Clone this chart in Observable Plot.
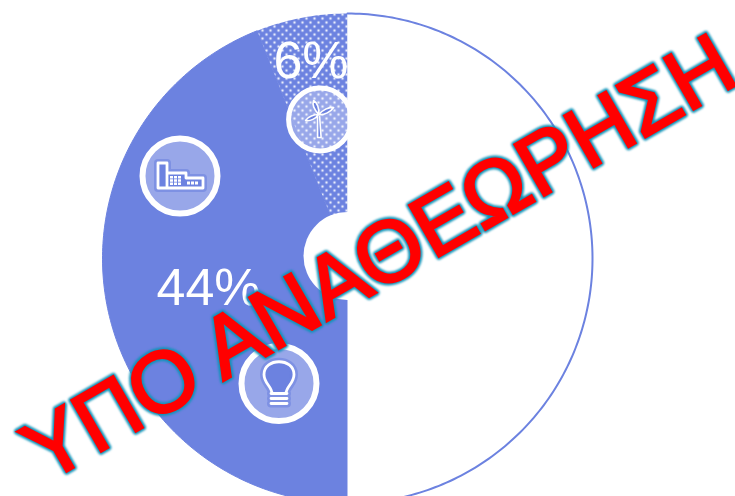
<!DOCTYPE html>
<html><head><meta charset="utf-8">
<script src="https://cdn.jsdelivr.net/npm/d3@7"></script>
<script src="https://cdn.jsdelivr.net/npm/@observablehq/plot@0.6"></script>
<style>html,body{margin:0;padding:0;background:#fff}svg{display:block}</style>
</head><body><script>
const shares = [44, 6, 50];
const sliceNames = ["solid", "dotted", "blank"];
const labels = ["44%", "6%"];
const watermark = "ΥΠΟ ΑΝΑΘΕΩΡΗΣΗ";
const blue = "#6c82e0";
const cx = 347, cy = 258, R = 245, hole = 44;

let acc = 0;
const slices = shares.map((v, i) => {
  const a0 = Math.PI + acc / 100 * 2 * Math.PI;
  acc += v;
  const a1 = Math.PI + acc / 100 * 2 * Math.PI;
  const n = Math.ceil((a1 - a0) * 60);
  const pts = d3.range(n + 1).map(k => {
    const a = a0 + (a1 - a0) * k / n;
    return {name: sliceNames[i], x: cx + R * Math.sin(a), y: cy - R * Math.cos(a)};
  });
  pts.push({name: sliceNames[i], x: cx, y: cy});
  pts.push(pts[0]);
  return pts;
});

const factory = {draw(c) {
  c.moveTo(-22, 12); c.lineTo(-22, -13); c.lineTo(-13, -13); c.lineTo(-13, -3);
  c.lineTo(6, -3); c.lineTo(6, 2); c.lineTo(23, 2); c.lineTo(23, 12); c.closePath();
  c.moveTo(-13, -3); c.lineTo(-13, 12);
}};
const factoryWindows = {draw(c) {
  for (const x of [-10, -6, -2]) for (const y of [0, 3.3, 6.6]) c.rect(x, y, 3, 2.5);
  for (const x of [7, 11, 15]) c.rect(x, 5.5, 3, 3);
}};
const bulb = {draw(c) {
  c.moveTo(-7, 10);
  c.bezierCurveTo(-7, 3, -15, 0, -15, -9);
  c.bezierCurveTo(-15, -26, 15, -26, 15, -9);
  c.bezierCurveTo(15, 0, 7, 3, 7, 10);
  c.closePath();
  for (const y of [10, 15, 20]) { c.moveTo(-8, y); c.lineTo(8, y); }
}};
const turbine = {draw(c) {
  c.moveTo(-2.5, -3); c.lineTo(-2.5, 18); c.lineTo(1, 18); c.lineTo(-0.5, -3);
  c.moveTo(-1.5, -5); c.bezierCurveTo(-5, -9, -8, -15, -6.5, -19);
  c.bezierCurveTo(-3, -17, -0.5, -11, -1.5, -5);
  c.moveTo(-1.5, -5); c.bezierCurveTo(2, -9, 9, -13, 13.5, -12);
  c.bezierCurveTo(11, -8, 4, -4, -1.5, -5);
  c.moveTo(-1.5, -5); c.bezierCurveTo(-6, -5, -12, -3, -14.5, 1);
  c.bezierCurveTo(-10, 2, -4, -1, -1.5, -5);
}};
const badges = [
  {x: 179.5, y: 175.5, r: 37.5, symbol: factory},
  {x: 278.5, y: 383, r: 37.5, symbol: bulb},
  {x: 319.6, y: 119, r: 31.5, symbol: turbine}
];
const iconR = Math.sqrt(100 / Math.PI);

const defs = () => {
  const ns = "http://www.w3.org/2000/svg";
  const g = document.createElementNS(ns, "defs");
  g.innerHTML = `<pattern id="dots" width="8" height="8" patternUnits="userSpaceOnUse">
    <rect width="8" height="8" fill="${blue}"/>
    <circle cx="2" cy="2" r="1.25" fill="#fff" fill-opacity=".85"/>
    <circle cx="6" cy="6" r="1.25" fill="#fff" fill-opacity=".85"/></pattern>`;
  return g;
};

const wm = {x: [379], y: [258.5], text: d => d, rotate: -30, fontSize: 86, fontFamily: "Liberation Sans", fill: "#ff0000"};

const chart = Plot.plot({
  width: 735, height: 496, margin: 0,
  style: {background: "transparent", overflow: "hidden"},
  x: {domain: [0, 735], axis: null},
  y: {domain: [0, 496], range: [0, 496], axis: null},
  symbol: {type: "identity"},
  r: {type: "identity"},
  marks: [
    defs,
    Plot.line(slices[0], {x: "x", y: "y", fill: blue, stroke: blue, strokeWidth: 1}),
    Plot.line(slices[1], {x: "x", y: "y", fill: "url(#dots)", stroke: "none"}),
    Plot.text([labels[0]], {x: [208], y: [288], text: d => d, fill: "#fff", fontSize: 52, fontFamily: "Liberation Sans"}),
    Plot.text([labels[1]], {x: [310.5], y: [61], text: d => d, fill: "#fff", fontSize: 52, fontFamily: "Liberation Sans"}),
    Plot.dot(badges, {x: "x", y: "y", r: "r", fill: "#fff", fillOpacity: 0.3, stroke: "#fff", strokeWidth: d => d.r > 35 ? 6 : 5}),
    Plot.dot(badges.slice(0, 2), {x: "x", y: "y", r: iconR, symbol: "symbol", fill: blue, stroke: blue, strokeOpacity: 0.6, strokeWidth: 8, strokeLinejoin: "round", strokeLinecap: "round"}),
    Plot.dot(badges.slice(0, 2), {x: "x", y: "y", r: iconR, symbol: "symbol", fill: "none", stroke: "#fff", strokeWidth: 2.8, strokeLinejoin: "round", strokeLinecap: "round"}),
    Plot.dot(badges.slice(0, 1), {x: "x", y: "y", r: iconR, symbol: () => factoryWindows, fill: "#fff", stroke: "none"}),
    Plot.dot(badges.slice(2), {x: "x", y: "y", r: iconR, symbol: "symbol", fill: blue, stroke: "#fff", strokeWidth: 1.6, strokeLinejoin: "round", strokeLinecap: "round"}),
    Plot.line(slices[2], {x: "x", y: "y", fill: "#fff", stroke: "none"}),
    Plot.line(slices[2].slice(0, -2), {x: "x", y: "y", stroke: blue, strokeWidth: 2}),
    Plot.dot([{x: cx, y: 255.5}], {x: "x", y: "y", r: hole, fill: "#fff"}),
    Plot.text([watermark], {...wm, fill: "#0f93b8", stroke: "#0f93b8", strokeWidth: 6.5, strokeLinejoin: "round", imageFilter: "blur(1px)"}),
    Plot.text([watermark], {...wm, stroke: "#ff0000", strokeWidth: 2.6, strokeLinejoin: "miter"})
  ]
});
document.body.append(chart);
</script></body></html>
